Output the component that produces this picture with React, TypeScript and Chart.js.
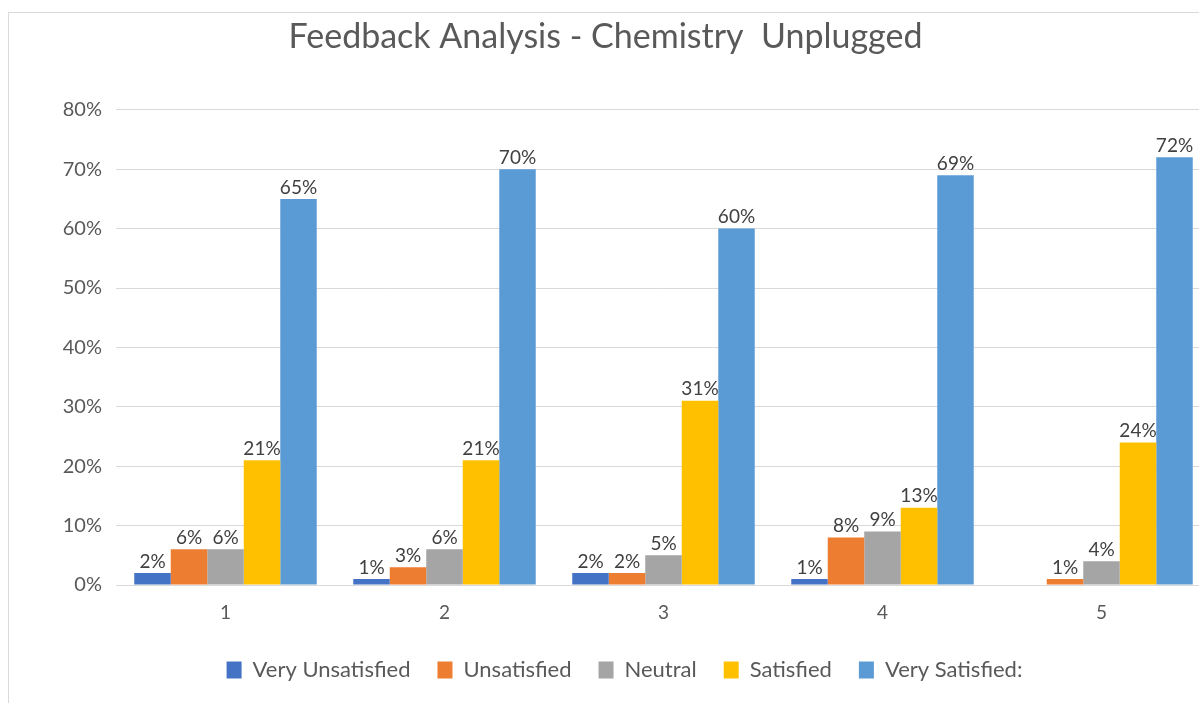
import React, { useEffect, useRef } from "react";
import { Chart, registerables } from "chart.js";

Chart.register(...registerables);

const categories = ["1", "2", "3", "4", "5"];
const seriesNames = ["Very Unsatisfied", "Unsatisfied", "Neutral", "Satisfied", "Very Satisfied:"];
const veryUnsatisfied = [2, 1, 2, 1, null];
const unsatisfied = [6, 3, 2, 8, 1];
const neutral = [6, 6, 5, 9, 4];
const satisfied = [21, 21, 31, 13, 24];
const verySatisfied = [65, 70, 60, 69, 72];
const seriesColors = ["#4472C4", "#ED7D31", "#A5A5A5", "#FFC000", "#5B9BD5"];
const yTicks = [0, 10, 20, 30, 40, 50, 60, 70, 80];

const FONT = "Lato, 'Open Sans', sans-serif";

const labelPlugin = {
  id: "barLabels",
  afterLayout(chart: any) {
    if (chart.legend) {
      chart.legend.left += 19;
      chart.legend.right += 19;
    }
  },
  afterDatasetsDraw(chart: any) {
    const ctx = chart.ctx;
    ctx.save();
    ctx.font = `19px ${FONT}`;
    ctx.fillStyle = "#404040";
    ctx.textAlign = "center";
    ctx.textBaseline = "bottom";
    chart.data.datasets.forEach((ds: any, i: number) => {
      const meta = chart.getDatasetMeta(i);
      meta.data.forEach((bar: any, j: number) => {
        const v = ds.data[j];
        if (v === null || v === undefined) return;
        ctx.fillText(v + "%", bar.x, bar.y - 2);
      });
    });
    ctx.restore();
  },
};

export default function App() {
  const ref = useRef<HTMLCanvasElement>(null);
  useEffect(() => {
    if (!ref.current) return;
    const all = [veryUnsatisfied, unsatisfied, neutral, satisfied, verySatisfied];
    const chart = new Chart(ref.current, {
      type: "bar",
      data: {
        labels: categories,
        datasets: all.map((d, i) => ({
          label: seriesNames[i],
          data: d,
          backgroundColor: seriesColors[i],
          borderWidth: 0,
          categoryPercentage: 5 / 6,
          barPercentage: 1,
        })),
      },
      options: {
        responsive: false,
        animation: false,
        layout: { padding: { top: 14, right: 7, bottom: 12, left: 0 } },
        plugins: {
          title: {
            display: true,
            text: "Feedback Analysis - Chemistry  Unplugged",
            color: "#595959",
            font: { family: FONT, size: 34, weight: "normal" },
            padding: { top: 3, bottom: 52 },
          },
          legend: {
            position: "bottom",
            labels: {
              color: "#595959",
              font: { family: FONT, size: 22 },
              boxWidth: 15,
              boxHeight: 17,
              padding: 27,
            },
          },
          tooltip: { enabled: false },
        },
        scales: {
          x: {
            grid: { display: false },
            border: { display: true, color: "#D9D9D9" },
            ticks: { color: "#595959", font: { family: FONT, size: 19 }, padding: 8 },
            afterFit: (s: any) => {
              s.height = 47;
            },
          },
          y: {
            min: 0,
            max: 80,
            afterBuildTicks: (s: any) => {
              s.ticks = yTicks.map((v) => ({ value: v }));
            },
            grid: { color: "#D9D9D9", drawTicks: false, lineWidth: 1 },
            border: { display: false },
            ticks: {
              color: "#595959",
              font: { family: FONT, size: 20 },
              padding: 14,
              callback: (v: any) => v + "%",
            },
            afterFit: (s: any) => {
              s.width = 116;
            },
          },
        },
      },
      plugins: [labelPlugin],
    });
    return () => chart.destroy();
  }, []);
  return (
    <div
      style={{
        position: "fixed",
        left: 0,
        top: 0,
        width: 1199,
        height: 703,
        overflow: "hidden",
        background: "#fff",
      }}
    >
      <div
        style={{
          position: "absolute",
          left: 8,
          top: 12,
          width: 1240,
          height: 720,
          border: "1px solid #D9D9D9",
        }}
      />
      <canvas
        ref={ref}
        width={1218}
        height={703}
        style={{ position: "absolute", left: 0, top: 0, width: 1218, height: 703 }}
      />
    </div>
  );
}
